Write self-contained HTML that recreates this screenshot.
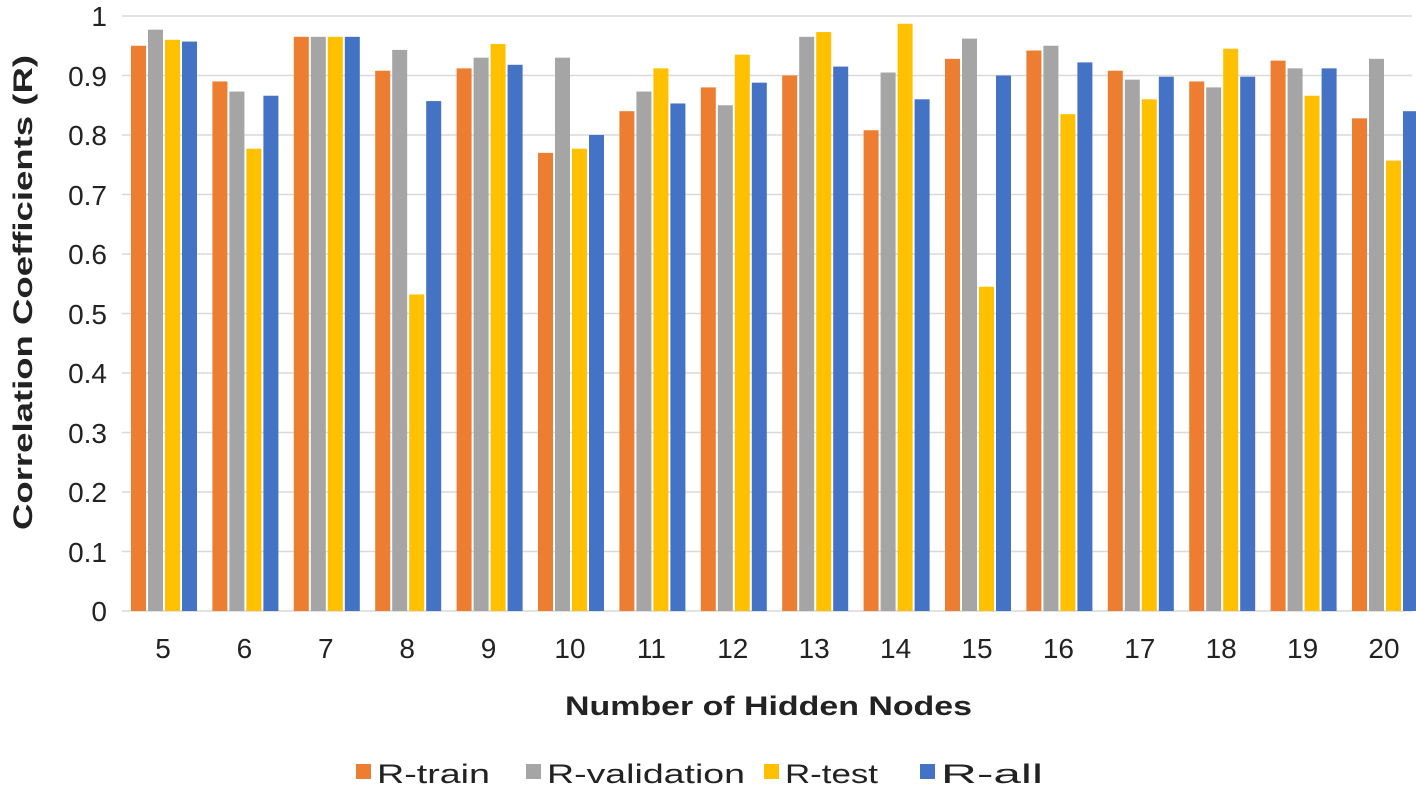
<!DOCTYPE html>
<html><head><meta charset="utf-8"><style>
body{margin:0;background:#fff;}
text{font-family:"Liberation Sans",sans-serif;fill:#222;}
</style></head><body>
<svg width="1416" height="787" xmlns="http://www.w3.org/2000/svg">
<rect width="1416" height="787" fill="#fff"/>
<g stroke="#d9d9d9" stroke-width="1.5">
<line x1="122" x2="1412" y1="16" y2="16"/><line x1="122" x2="1412" y1="75.5" y2="75.5"/>
<line x1="122" x2="1412" y1="135" y2="135"/><line x1="122" x2="1412" y1="194.5" y2="194.5"/>
<line x1="122" x2="1412" y1="254" y2="254"/><line x1="122" x2="1412" y1="313.5" y2="313.5"/>
<line x1="122" x2="1412" y1="373" y2="373"/><line x1="122" x2="1412" y1="432.5" y2="432.5"/>
<line x1="122" x2="1412" y1="492" y2="492"/><line x1="122" x2="1412" y1="551.5" y2="551.5"/>
<line x1="122" x2="1412" y1="611" y2="611"/>
</g>
<g font-size="28" text-anchor="end">
<text x="107" y="26">1</text><text x="107" y="86">0.9</text><text x="107" y="145">0.8</text>
<text x="107" y="205">0.7</text><text x="107" y="264">0.6</text><text x="107" y="324">0.5</text>
<text x="107" y="383">0.4</text><text x="107" y="443">0.3</text><text x="107" y="502">0.2</text>
<text x="107" y="562">0.1</text><text x="107" y="621">0</text>
</g>
<g id="bars">
<g transform="translate(163,611) scale(1,-595)"><rect x="-32" width="15" height=".95" fill="#ED7D31"/><rect x="-15" width="15" height=".977" fill="#A5A5A5"/><rect x="2" width="15" height=".96" fill="#FFC000"/><rect x="19" width="15" height=".957" fill="#4472C4"/></g>
<g transform="translate(244.4,611) scale(1,-595)"><rect x="-32" width="15" height=".89" fill="#ED7D31"/><rect x="-15" width="15" height=".873" fill="#A5A5A5"/><rect x="2" width="15" height=".777" fill="#FFC000"/><rect x="19" width="15" height=".866" fill="#4472C4"/></g>
<g transform="translate(325.8,611) scale(1,-595)"><rect x="-32" width="15" height=".965" fill="#ED7D31"/><rect x="-15" width="15" height=".965" fill="#A5A5A5"/><rect x="2" width="15" height=".965" fill="#FFC000"/><rect x="19" width="15" height=".965" fill="#4472C4"/></g>
<g transform="translate(407.2,611) scale(1,-595)"><rect x="-32" width="15" height=".908" fill="#ED7D31"/><rect x="-15" width="15" height=".943" fill="#A5A5A5"/><rect x="2" width="15" height=".532" fill="#FFC000"/><rect x="19" width="15" height=".857" fill="#4472C4"/></g>
<g transform="translate(488.6,611) scale(1,-595)"><rect x="-32" width="15" height=".912" fill="#ED7D31"/><rect x="-15" width="15" height=".93" fill="#A5A5A5"/><rect x="2" width="15" height=".953" fill="#FFC000"/><rect x="19" width="15" height=".918" fill="#4472C4"/></g>
<g transform="translate(570,611) scale(1,-595)"><rect x="-32" width="15" height=".77" fill="#ED7D31"/><rect x="-15" width="15" height=".93" fill="#A5A5A5"/><rect x="2" width="15" height=".777" fill="#FFC000"/><rect x="19" width="15" height=".8" fill="#4472C4"/></g>
<g transform="translate(651.4,611) scale(1,-595)"><rect x="-32" width="15" height=".84" fill="#ED7D31"/><rect x="-15" width="15" height=".873" fill="#A5A5A5"/><rect x="2" width="15" height=".912" fill="#FFC000"/><rect x="19" width="15" height=".853" fill="#4472C4"/></g>
<g transform="translate(732.8,611) scale(1,-595)"><rect x="-32" width="15" height=".88" fill="#ED7D31"/><rect x="-15" width="15" height=".85" fill="#A5A5A5"/><rect x="2" width="15" height=".935" fill="#FFC000"/><rect x="19" width="15" height=".888" fill="#4472C4"/></g>
<g transform="translate(814.2,611) scale(1,-595)"><rect x="-32" width="15" height=".9" fill="#ED7D31"/><rect x="-15" width="15" height=".965" fill="#A5A5A5"/><rect x="2" width="15" height=".973" fill="#FFC000"/><rect x="19" width="15" height=".915" fill="#4472C4"/></g>
<g transform="translate(895.6,611) scale(1,-595)"><rect x="-32" width="15" height=".808" fill="#ED7D31"/><rect x="-15" width="15" height=".905" fill="#A5A5A5"/><rect x="2" width="15" height=".987" fill="#FFC000"/><rect x="19" width="15" height=".86" fill="#4472C4"/></g>
<g transform="translate(977,611) scale(1,-595)"><rect x="-32" width="15" height=".928" fill="#ED7D31"/><rect x="-15" width="15" height=".962" fill="#A5A5A5"/><rect x="2" width="15" height=".545" fill="#FFC000"/><rect x="19" width="15" height=".9" fill="#4472C4"/></g>
<g transform="translate(1058.4,611) scale(1,-595)"><rect x="-32" width="15" height=".942" fill="#ED7D31"/><rect x="-15" width="15" height=".95" fill="#A5A5A5"/><rect x="2" width="15" height=".835" fill="#FFC000"/><rect x="19" width="15" height=".922" fill="#4472C4"/></g>
<g transform="translate(1139.8,611) scale(1,-595)"><rect x="-32" width="15" height=".908" fill="#ED7D31"/><rect x="-15" width="15" height=".893" fill="#A5A5A5"/><rect x="2" width="15" height=".86" fill="#FFC000"/><rect x="19" width="15" height=".898" fill="#4472C4"/></g>
<g transform="translate(1221.2,611) scale(1,-595)"><rect x="-32" width="15" height=".89" fill="#ED7D31"/><rect x="-15" width="15" height=".88" fill="#A5A5A5"/><rect x="2" width="15" height=".945" fill="#FFC000"/><rect x="19" width="15" height=".898" fill="#4472C4"/></g>
<g transform="translate(1302.6,611) scale(1,-595)"><rect x="-32" width="15" height=".925" fill="#ED7D31"/><rect x="-15" width="15" height=".912" fill="#A5A5A5"/><rect x="2" width="15" height=".866" fill="#FFC000"/><rect x="19" width="15" height=".912" fill="#4472C4"/></g>
<g transform="translate(1384,611) scale(1,-595)"><rect x="-32" width="15" height=".828" fill="#ED7D31"/><rect x="-15" width="15" height=".928" fill="#A5A5A5"/><rect x="2" width="15" height=".757" fill="#FFC000"/><rect x="19" width="15" height=".84" fill="#4472C4"/></g>
</g>
<g font-size="28" text-anchor="middle">
<text x="163" y="658">5</text><text x="244.4" y="658">6</text><text x="325.8" y="658">7</text><text x="407.2" y="658">8</text>
<text x="488.6" y="658">9</text><text x="570" y="658">10</text><text x="651.4" y="658">11</text><text x="732.8" y="658">12</text>
<text x="814.2" y="658">13</text><text x="895.6" y="658">14</text><text x="977" y="658">15</text><text x="1058.4" y="658">16</text>
<text x="1139.8" y="658">17</text><text x="1221.2" y="658">18</text><text x="1302.6" y="658">19</text><text x="1384" y="658">20</text>
</g>
<text x="565" y="715" font-size="27" font-weight="bold" textLength="407" lengthAdjust="spacingAndGlyphs">Number of Hidden Nodes</text>
<text transform="translate(32,530) rotate(-90)" font-size="27" font-weight="bold" textLength="475" lengthAdjust="spacingAndGlyphs">Correlation Coefficients (R)</text>
<g font-size="27">
<rect x="356" y="764" width="15" height="15" fill="#ED7D31"/><text x="377" y="783" textLength="113" lengthAdjust="spacingAndGlyphs">R-train</text>
<rect x="526" y="764" width="15" height="15" fill="#A5A5A5"/><text x="547" y="783" textLength="198" lengthAdjust="spacingAndGlyphs">R-validation</text>
<rect x="764" y="764" width="15" height="15" fill="#FFC000"/><text x="785" y="783" textLength="93" lengthAdjust="spacingAndGlyphs">R-test</text>
<rect x="920" y="764" width="15" height="15" fill="#4472C4"/><text x="941" y="783" textLength="102" lengthAdjust="spacingAndGlyphs">R-all</text>
</g>
</svg>
</body></html>
